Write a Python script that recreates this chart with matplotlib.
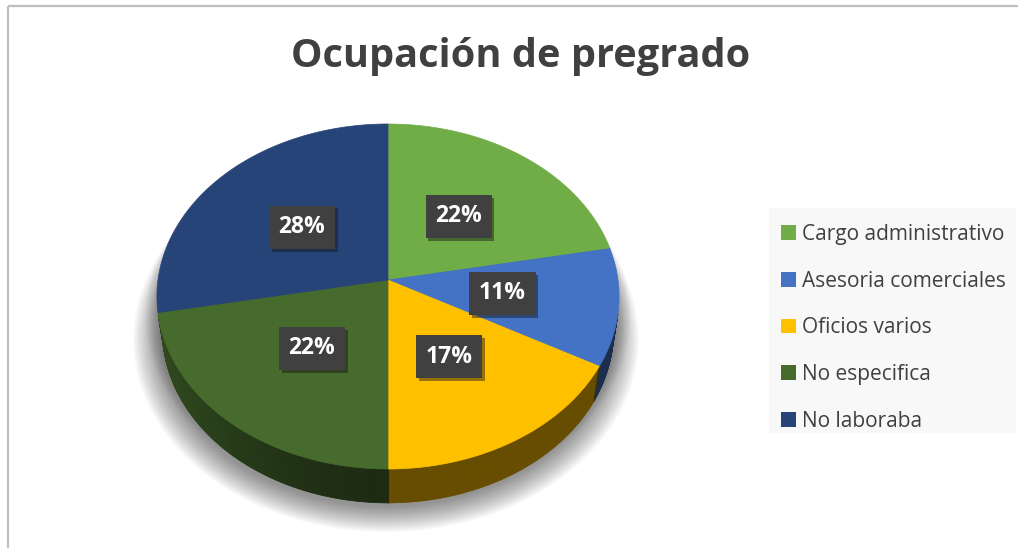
import numpy as np
import matplotlib
matplotlib.use("Agg")
from matplotlib import pyplot as plt
from matplotlib import patheffects as pe
from matplotlib.patches import Patch, Rectangle

# data
categories = ["Cargo administrativo", "Asesoria comerciales", "Oficios varios",
              "No especifica", "No laboraba"]
percent = [22, 11, 17, 22, 28]
top_colors = ["#70ad47", "#4472c4", "#ffc000", "#466b2c", "#264478"]
title = "Ocupación de pregrado"

# view of the 3d disc (pixels)
cx, cy = 388, 280
scale = 230.0
elev = np.radians(48)
dist = 7.0
thick = 0.235
se, ce = np.sin(elev), np.cos(elev)


def proj(r, th, z):
    x = r * np.sin(th)
    y = r * np.cos(th)
    up = y * se + z * ce
    dep = dist + y * ce - z * se
    return cx + scale * x * dist / dep, cy - scale * up * dist / dep


def shade(col, f):
    rgb = np.array(matplotlib.colors.to_rgb(col))
    return tuple(rgb * f)


fig = plt.figure(figsize=(10.18, 5.48), dpi=100)
ax = fig.add_axes([0, 0, 1, 1])
ax.set_xlim(0, 1018)
ax.set_ylim(548, 0)
ax.axis("off")

ax.add_patch(Rectangle((8, 6), 1100, 600, fill=False, edgecolor="#bfbfbf", lw=1.6))
# legend background
ax.add_patch(Rectangle((769, 208), 247, 225, facecolor="#f8f8f8", edgecolor="none", zorder=0))

# soft shadow under the pie
full = np.linspace(0, 2 * np.pi, 300)
for k in range(16):
    r = 1.0 + 0.008 * k
    sx, sy = proj(r, full, -thick)
    ax.fill(sx - 2, sy + 4, color="#000000", alpha=0.03, lw=0, zorder=1)
for k in range(10):
    r = 1.0 + 0.007 * k
    sx, sy = proj(r, full, -0.5 * thick)
    ax.fill(sx, sy, color="#000000", alpha=0.02, lw=0, zorder=1)

fracs = np.array(percent) / np.sum(percent)
edges = np.concatenate([[0], np.cumsum(fracs)]) * 2 * np.pi
limb = -1.0 / (dist * ce)

# side walls (front part only)
for i, col in enumerate(top_colors):
    th = np.linspace(edges[i], edges[i + 1], 120)
    for a0, a1 in zip(th[:-1], th[1:]):
        am = 0.5 * (a0 + a1)
        if np.cos(am) > limb + 0.02:
            continue
        f = 0.4 + 0.3 * np.clip(-np.sin(am), 0, 1) ** 1.5
        p0 = proj(1, a0, 0)
        p1 = proj(1, a1, 0)
        q1 = proj(1, a1, -thick)
        q0 = proj(1, a0, -thick)
        ax.fill([p0[0], p1[0], q1[0], q0[0]], [p0[1], p1[1], q1[1], q0[1]],
                color=shade(col, f), lw=0.6, ec=shade(col, f), zorder=2)

# vertical cut at the front (between yellow and dark green)
for i in range(1, len(edges) - 1):
    a = edges[i]
    if np.cos(a) < limb:
        x0, y0 = proj(1, a, 0)
        x1, y1 = proj(1, a, -thick)
        ax.plot([x0, x1], [y0, y1], color="#101808", lw=0.8, alpha=0.5, zorder=2.5)

# top faces
for i, col in enumerate(top_colors):
    th = np.linspace(edges[i], edges[i + 1], 120)
    px, py = proj(1, th, 0)
    px = np.concatenate([[cx], px])
    py = np.concatenate([[cy], py])
    ax.fill(px, py, color=col, ec=col, lw=0.5, zorder=3)

# data labels
for i, p in enumerate(percent):
    mid = 0.5 * (edges[i] + edges[i + 1])
    lx, ly = proj(0.5, mid, 0)
    t = ax.text(lx, ly, f"{p}%", ha="center", va="center", color="white",
                fontsize=16.5, fontweight="bold", family="Open Sans", zorder=5,
                bbox=dict(boxstyle="square,pad=0.42", facecolor="#404040",
                          edgecolor="none"))
    t.get_bbox_patch().set_path_effects(
        [pe.SimplePatchShadow(offset=(2, -2), alpha=0.45), pe.Normal()])

fig.text(521 / 1018, 1 - 56 / 548, title, ha="center", va="center",
         fontsize=28.6, fontweight="bold", color="#404040", family="Open Sans")

handles = [Patch(facecolor=c, edgecolor="none") for c in top_colors]
leg = fig.legend(handles, categories, loc="upper left",
                 bbox_to_anchor=(769 / 1018, 1 - 212 / 548),
                 frameon=False, borderaxespad=0,
                 handlelength=0.72, handleheight=0.72, handletextpad=0.28,
                 labelspacing=1.23, borderpad=0.58,
                 prop={"family": "Open Sans", "size": 15})
for txt in leg.get_texts():
    txt.set_color("#404040")

fig.savefig("out.png", dpi=100)
